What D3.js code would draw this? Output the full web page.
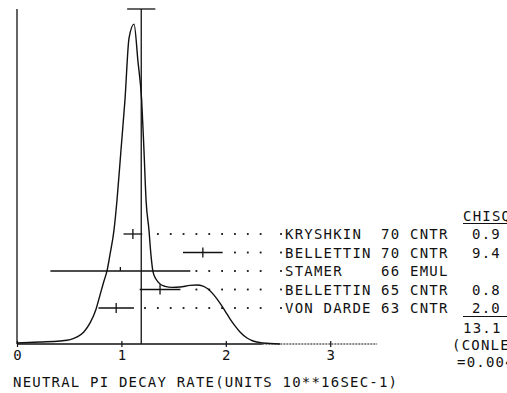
<!DOCTYPE html>
<html>
<head>
<meta charset="utf-8">
<script src="https://cdn.jsdelivr.net/npm/d3@7"></script>
<style>
  body { margin: 0; background: #fff; }
  svg { display: block; }
  text { font-family: "DejaVu Sans Mono", monospace; fill: #111; }
</style>
</head>
<body>
<svg id="chart" width="507" height="393"></svg>
<script>
// Data
// ----
var xTicks = [0, 1, 2, 3];
var names = ["KRYSHKIN", "BELLETTIN", "STAMER", "BELLETTIN", "VON DARDE"];
var years = ["70", "70", "66", "65", "63"];
var methods = ["CNTR", "CNTR", "EMUL", "CNTR", "CNTR"];
var values = [1.11, 1.78, 0.99, 1.37, 0.95];
var errors = [0.09, 0.19, 0.67, 0.195, 0.17];
var chisq = ["0.9", "9.4", "", "0.8", "2.0"];
var meanValue = 1.19, meanError = 0.135;
var chiTotal = "13.1";
var conLevel = ["(CONLEV", "=0.004)"];
var xTitle = "NEUTRAL PI DECAY RATE(UNITS 10**16SEC-1)";

// ideogram
var curveX = [0, 0.22, 0.41, 0.51, 0.575, 0.64, 0.70, 0.757, 0.795, 0.833, 0.862, 0.89, 0.929, 0.958,
  0.996, 1.034, 1.073, 1.121, 1.159, 1.194, 1.216, 1.236, 1.264, 1.283, 1.303, 1.331, 1.37, 1.418,
  1.485, 1.561, 1.657, 1.724, 1.782, 1.83, 1.887, 1.944, 1.992, 2.04, 2.088, 2.136, 2.203, 2.26, 2.356, 2.52];
var curveY = [0.003, 0.006, 0.009, 0.013, 0.021, 0.036, 0.063, 0.104, 0.146, 0.188, 0.218, 0.266, 0.340, 0.430,
  0.579, 0.728, 0.913, 0.955, 0.842, 0.728, 0.579, 0.430, 0.340, 0.266, 0.215, 0.194, 0.179, 0.172,
  0.169, 0.170, 0.175, 0.176, 0.173, 0.164, 0.146, 0.122, 0.099, 0.075, 0.054, 0.036, 0.018, 0.009, 0.003, 0];

// Scales
// ------
var svg = d3.select("#chart");
svg.append("rect").attr("width", 507).attr("height", 393).attr("fill", "#fff");

var x = d3.scaleLinear().domain([0, 3.45]).range([17, 377.2]);
var y = d3.scaleLinear().domain([0, 1]).range([344, 9]);
var rowY = d3.scalePoint().domain(d3.range(names.length)).range([234, 308]);

var ink = "#111";

// plotter lettering: narrow glyphs, wide pitch
var letter = function(sel) {
  sel.style("font-size", "14px").style("letter-spacing", "1.2px");
};

// Axes
// ----
svg.append("line")
  .attr("x1", x(0)).attr("x2", x(0))
  .attr("y1", y(0)).attr("y2", y(1))
  .attr("stroke", ink).attr("stroke-width", 1.3);

svg.append("line")
  .attr("x1", x(0)).attr("x2", x(2.35))
  .attr("y1", y(0)).attr("y2", y(0))
  .attr("stroke", ink).attr("stroke-width", 1.3);
svg.append("line")
  .attr("x1", x(2.35)).attr("x2", x(3.45))
  .attr("y1", y(0)).attr("y2", y(0))
  .attr("stroke", ink).attr("stroke-width", 1.2)
  .attr("stroke-dasharray", "2,1");

var axis = d3.axisBottom(x).tickValues(xTicks).tickSize(3).tickFormat(d3.format("d"));
var gx = svg.append("g").attr("transform", "translate(0," + y(0) + ")").call(axis);
gx.select(".domain").remove();
gx.selectAll(".tick line").attr("y1", -3).attr("stroke", ink).attr("stroke-width", 1.2);
gx.selectAll(".tick text")
  .attr("y", 16).attr("dy", 0)
  .style("font-family", "DejaVu Sans Mono").attr("fill", ink)
  .call(letter).style("letter-spacing", "0px");

svg.append("text")
  .attr("x", 13).attr("y", 387)
  .call(letter)
  .text(xTitle);

// Ideogram
// --------
var line = d3.line()
  .x(function(d) { return x(d[0]); })
  .y(function(d) { return y(d[1]); })
  .curve(d3.curveMonotoneX);

svg.append("path")
  .datum(d3.zip(curveX, curveY))
  .attr("d", line)
  .attr("fill", "none").attr("stroke", ink).attr("stroke-width", 1.4);

// Mean line with error cap
// ------------------------
svg.append("line")
  .attr("x1", x(meanValue)).attr("x2", x(meanValue))
  .attr("y1", y(0)).attr("y2", y(1))
  .attr("stroke", ink).attr("stroke-width", 1.3);
svg.append("line")
  .attr("x1", x(meanValue - meanError)).attr("x2", x(meanValue + meanError))
  .attr("y1", y(1)).attr("y2", y(1))
  .attr("stroke", ink).attr("stroke-width", 1.3);

// Measurements
// ------------
var rows = svg.selectAll(".row")
  .data(d3.range(names.length))
  .enter().append("g")
  .attr("class", "row")
  .attr("transform", function(i) { return "translate(0," + rowY(i) + ")"; });

rows.append("line")
  .attr("x1", function(i) { return x(values[i] - errors[i]); })
  .attr("x2", function(i) { return x(values[i] + errors[i]); })
  .attr("stroke", ink).attr("stroke-width", 1.3);

rows.append("line")
  .attr("x1", function(i) { return x(values[i]); })
  .attr("x2", function(i) { return x(values[i]); })
  .attr("y1", function(i) { return errors[i] > 0.5 ? -4 : -5; })
  .attr("y2", function(i) { return errors[i] > 0.5 ? 0 : 5; })
  .attr("stroke", ink).attr("stroke-width", 1.3);

// dotted leaders, on a fixed grid up to the label
var dotGrid = d3.range(145, 272, 12.85).concat([281]);
rows.selectAll(".dot")
  .data(function(i) {
    var end = x(values[i] + errors[i]);
    return dotGrid.filter(function(px) { return px > end + 5; });
  })
  .enter().append("rect")
  .attr("class", "dot")
  .attr("x", function(px) { return px - 0.9; })
  .attr("y", -0.9)
  .attr("width", 1.8).attr("height", 1.8)
  .attr("fill", ink);

rows.append("text").attr("x", 285).attr("dy", 5).call(letter).text(function(i) { return names[i]; });
rows.append("text").attr("x", 381).attr("dy", 5).call(letter).text(function(i) { return years[i]; });
rows.append("text").attr("x", 410).attr("dy", 5).call(letter).text(function(i) { return methods[i]; });
rows.append("text").attr("x", 472).attr("dy", 5).call(letter).text(function(i) { return chisq[i]; });

// Chi-square column
// -----------------
svg.append("text").attr("x", 463).attr("y", 221).call(letter).text("CHISQ");
svg.append("line").attr("x1", 463).attr("x2", 507).attr("y1", 223.5).attr("y2", 223.5)
  .attr("stroke", ink).attr("stroke-width", 1.2);
svg.append("line").attr("x1", 463).attr("x2", 507).attr("y1", 316.5).attr("y2", 316.5)
  .attr("stroke", ink).attr("stroke-width", 1.2);
svg.append("text").attr("x", 463).attr("y", 333).call(letter).text(chiTotal);
svg.append("text").attr("x", 452).attr("y", 350).call(letter).text(conLevel[0]);
svg.append("text").attr("x", 457).attr("y", 367).call(letter).text(conLevel[1]);
</script>
</body>
</html>
